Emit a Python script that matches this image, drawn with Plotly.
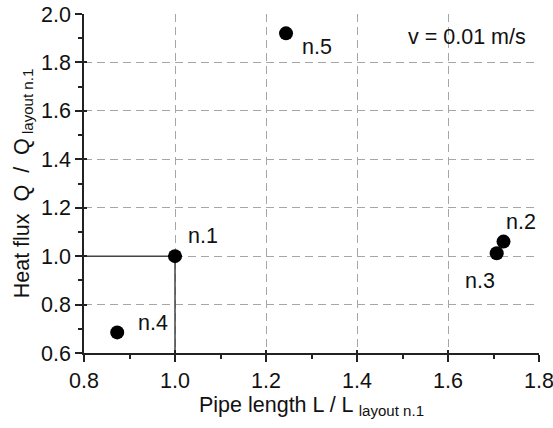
import plotly.graph_objects as go

# Data
layout_names = ["n.1", "n.2", "n.3", "n.4", "n.5"]
length_ratio = [1.0, 1.722, 1.707, 0.873, 1.244]
heat_ratio = [1.0, 1.06, 1.012, 0.685, 1.92]
label_dx = [28, 17, -17, 36, 31]
label_dy = [20, 20, -28, 9, -14]

x_ticks = [0.8, 1.0, 1.2, 1.4, 1.6, 1.8]
y_ticks = [0.6, 0.8, 1.0, 1.2, 1.4, 1.6, 1.8, 2.0]
x_range = [0.8, 1.8]
y_range = [0.6, 2.0]

FONT = "Liberation Sans, Arial, sans-serif"
fs = 21.5

fig = go.Figure()

# Reference lines through layout n.1
ref_x = [x_range[0], length_ratio[0], length_ratio[0]]
ref_y = [heat_ratio[0], heat_ratio[0], y_range[0]]
fig.add_trace(go.Scatter(x=ref_x, y=ref_y, mode="lines",
                         line=dict(color="#444444", width=1.5),
                         hoverinfo="skip", showlegend=False, cliponaxis=False))

fig.add_trace(go.Scatter(x=length_ratio, y=heat_ratio, mode="markers",
                         marker=dict(size=14, color="black"),
                         showlegend=False, cliponaxis=False))

# invisible trace on overlay axes (for inner tick halves)
fig.add_trace(go.Scatter(x=[x_range[0]], y=[y_range[0]], xaxis="x2", yaxis="y2",
                         mode="markers", marker=dict(opacity=0), showlegend=False,
                         hoverinfo="skip"))

for name, x, y, dx, dy in zip(layout_names, length_ratio, heat_ratio, label_dx, label_dy):
    fig.add_annotation(x=x, y=y, xref="x", yref="y", text=name, showarrow=False,
                       xshift=dx, yshift=dy, font=dict(family=FONT, size=fs, color="#111"))

fig.add_annotation(x=0.976, y=0.932, xref="paper", yref="paper", text="v = 0.01 m/s",
                   showarrow=False, xanchor="right", yanchor="middle",
                   font=dict(family=FONT, size=fs, color="#111"))

grid = dict(showgrid=True, gridcolor="#a6a6a6", gridwidth=1, griddash="8px,5px")

fig.update_layout(
    width=553, height=428,
    margin=dict(l=84, r=14, t=14, b=75, autoexpand=False),
    paper_bgcolor="white", plot_bgcolor="white",
    font=dict(family=FONT, size=fs, color="#111"),
    xaxis=dict(range=x_range, tickvals=x_ticks, ticktext=[f"{v:.1f}" for v in x_ticks],
               ticklabeloverflow="allow", automargin=False,
               showline=True, linecolor="#222", linewidth=1.5,
               ticks="outside", ticklen=7, tickwidth=1.5, tickcolor="#222",
               minor=dict(ticks="outside", ticklen=4, dtick=0.1, tick0=0.8,
                          tickcolor="#222", tickwidth=1.5, showgrid=False),
               zeroline=False,
               title=dict(text="Pipe length L / L <sub>layout n.1</sub>",
                          font=dict(size=fs), standoff=2),
               **grid),
    yaxis=dict(range=y_range, tickvals=y_ticks, ticktext=[f"{v:.1f}" for v in y_ticks],
               ticklabeloverflow="allow", automargin=False,
               showline=True, linecolor="#222", linewidth=1.5,
               ticks="outside", ticklen=7, tickwidth=1.5, tickcolor="#222",
               minor=dict(ticks="outside", ticklen=4, dtick=0.1, tick0=0.6,
                          tickcolor="#222", tickwidth=1.5, showgrid=False),
               zeroline=False,
               title=dict(text="Heat flux  Q  /  Q<sub> layout n.1</sub>",
                          font=dict(size=fs), standoff=6),
               **grid),
    xaxis2=dict(range=x_range, tickvals=x_ticks, overlaying="x", anchor="y2", side="bottom",
                showticklabels=False, showgrid=False, zeroline=False, showline=False,
                automargin=False,
                ticks="inside", ticklen=3, tickwidth=1.5, tickcolor="#222"),
    yaxis2=dict(range=y_range, tickvals=y_ticks, overlaying="y", anchor="x2", side="left",
                showticklabels=False, showgrid=False, zeroline=False, showline=False,
                automargin=False,
                ticks="inside", ticklen=3, tickwidth=1.5, tickcolor="#222"),
)

fig.write_html("out.html")
